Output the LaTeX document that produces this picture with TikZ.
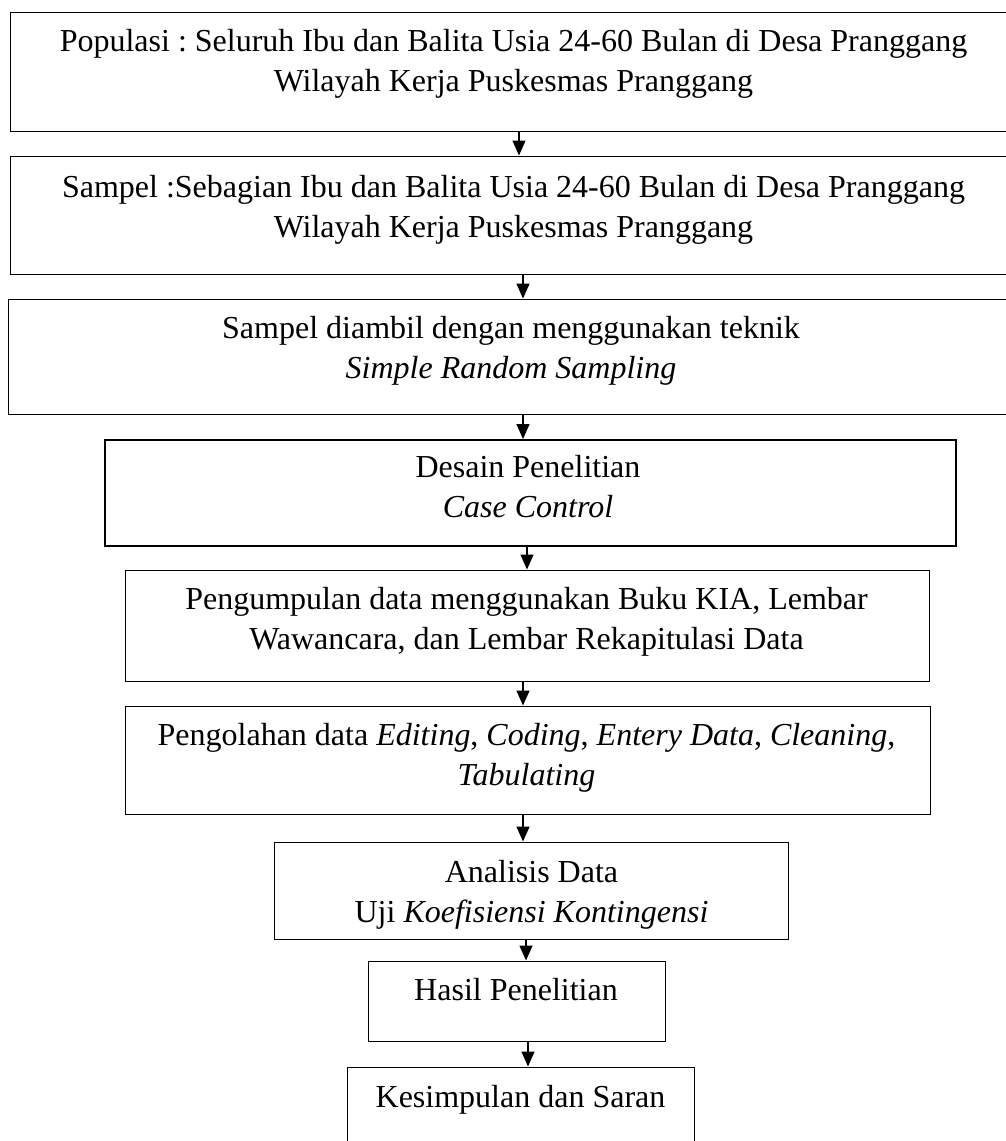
\documentclass[tikz,border=0pt]{standalone}
\usepackage{fontspec}
\setmainfont{Liberation Serif}
\usetikzlibrary{arrows.meta}
\frenchspacing
\tikzset{
	box/.style={draw, line width=0.5pt, inner sep=0pt},
	boldbox/.style={box, line width=1pt},
	txt/.style={align=center, inner sep=0pt, anchor=base, font=\fontsize{16}{20}\selectfont},
	arr/.style={line width=0.75pt, -{Triangle[width=6.5pt,length=7.5pt]}}
}

\begin{document}
\begin{tikzpicture}[x=0.5pt,y=-0.5pt]
		%%%%% START %%%%%
		\useasboundingbox (0,0) rectangle (1006,1141);
		
		\node[box, minimum width=503pt, minimum height=59.5pt] (populasi) at (513,71.5) {};
		\node[txt] (populasitxt) at (513.5,91) {Populasi : Seluruh Ibu dan Balita Usia 24-60 Bulan di Desa Pranggang\\Wilayah Kerja Puskesmas Pranggang};
		
		\node[box, minimum width=503pt, minimum height=59pt] (sampel) at (513,215) {};
		\node[txt] (sampeltxt) at (513.5,237) {Sampel :Sebagian Ibu dan Balita Usia 24-60 Bulan di Desa Pranggang\\Wilayah Kerja Puskesmas Pranggang};
		
		\node[box, minimum width=503pt, minimum height=57.5pt] (teknik) at (511,356.5) {};
		\node[txt] (tekniktxt) at (511,378) {Sampel diambil dengan menggunakan teknik\\\textit{Simple Random Sampling}};
		
		\node[boldbox, minimum width=425.5pt, minimum height=53pt] (desain) at (530.5,493) {};
		\node[txt] (desaintxt) at (528,517) {Desain Penelitian\\\textit{Case Control}};
		
		\node[box, minimum width=402pt, minimum height=55.5pt] (kumpul) at (527,625.5) {};
		\node[txt] (kumpultxt) at (526.5,649) {Pengumpulan data menggunakan Buku KIA, Lembar\\Wawancara, dan Lembar Rekapitulasi Data};
		
		\node[box, minimum width=402.5pt, minimum height=54pt] (olah) at (527.5,760) {};
		\node[txt] (olahtxt) at (526.5,785) {Pengolahan data \textit{Editing}, \textit{Coding}, \textit{Entery Data}, \textit{Cleaning},\\\textit{Tabulating}};
		
		\node[box, minimum width=257pt, minimum height=48.5pt] (analisis) at (531,890.5) {};
		\node[txt] (analisistxt) at (531.5,922) {Analisis Data\\Uji \textit{Koefisiensi Kontingensi}};
		
		\node[box, minimum width=148.5pt, minimum height=40pt] (hasil) at (516.5,1001) {};
		\node[txt] (hasiltxt) at (516,1000) {Hasil Penelitian};
		
		\node[box, minimum width=173.5pt, minimum height=46.5pt] (simpul) at (520.5,1113.5) {};
		\node[txt] (simpultxt) at (520.5,1107) {Kesimpulan dan Saran};
		
		\draw[arr] (populasi.south -| 519,0) -- (sampel.north -| 519,0);
		\draw[arr] (sampel.south -| 523,0) -- (teknik.north -| 523,0);
		\draw[arr] (teknik.south -| 523,0) -- (desain.north -| 523,0);
		\draw[arr] (desain.south -| 527,0) -- (kumpul.north -| 527,0);
		\draw[arr] (kumpul.south -| 523,0) -- (olah.north -| 523,0);
		\draw[arr] (olah.south -| 523,0) -- (analisis.north -| 523,0);
		\draw[arr] (analisis.south -| 526,0) -- (hasil.north -| 526,0);
		\draw[arr] (hasil.south -| 528,0) -- (simpul.north -| 528,0);
		
		%%%%% END %%%%%
	\end{tikzpicture}
\end{document}
